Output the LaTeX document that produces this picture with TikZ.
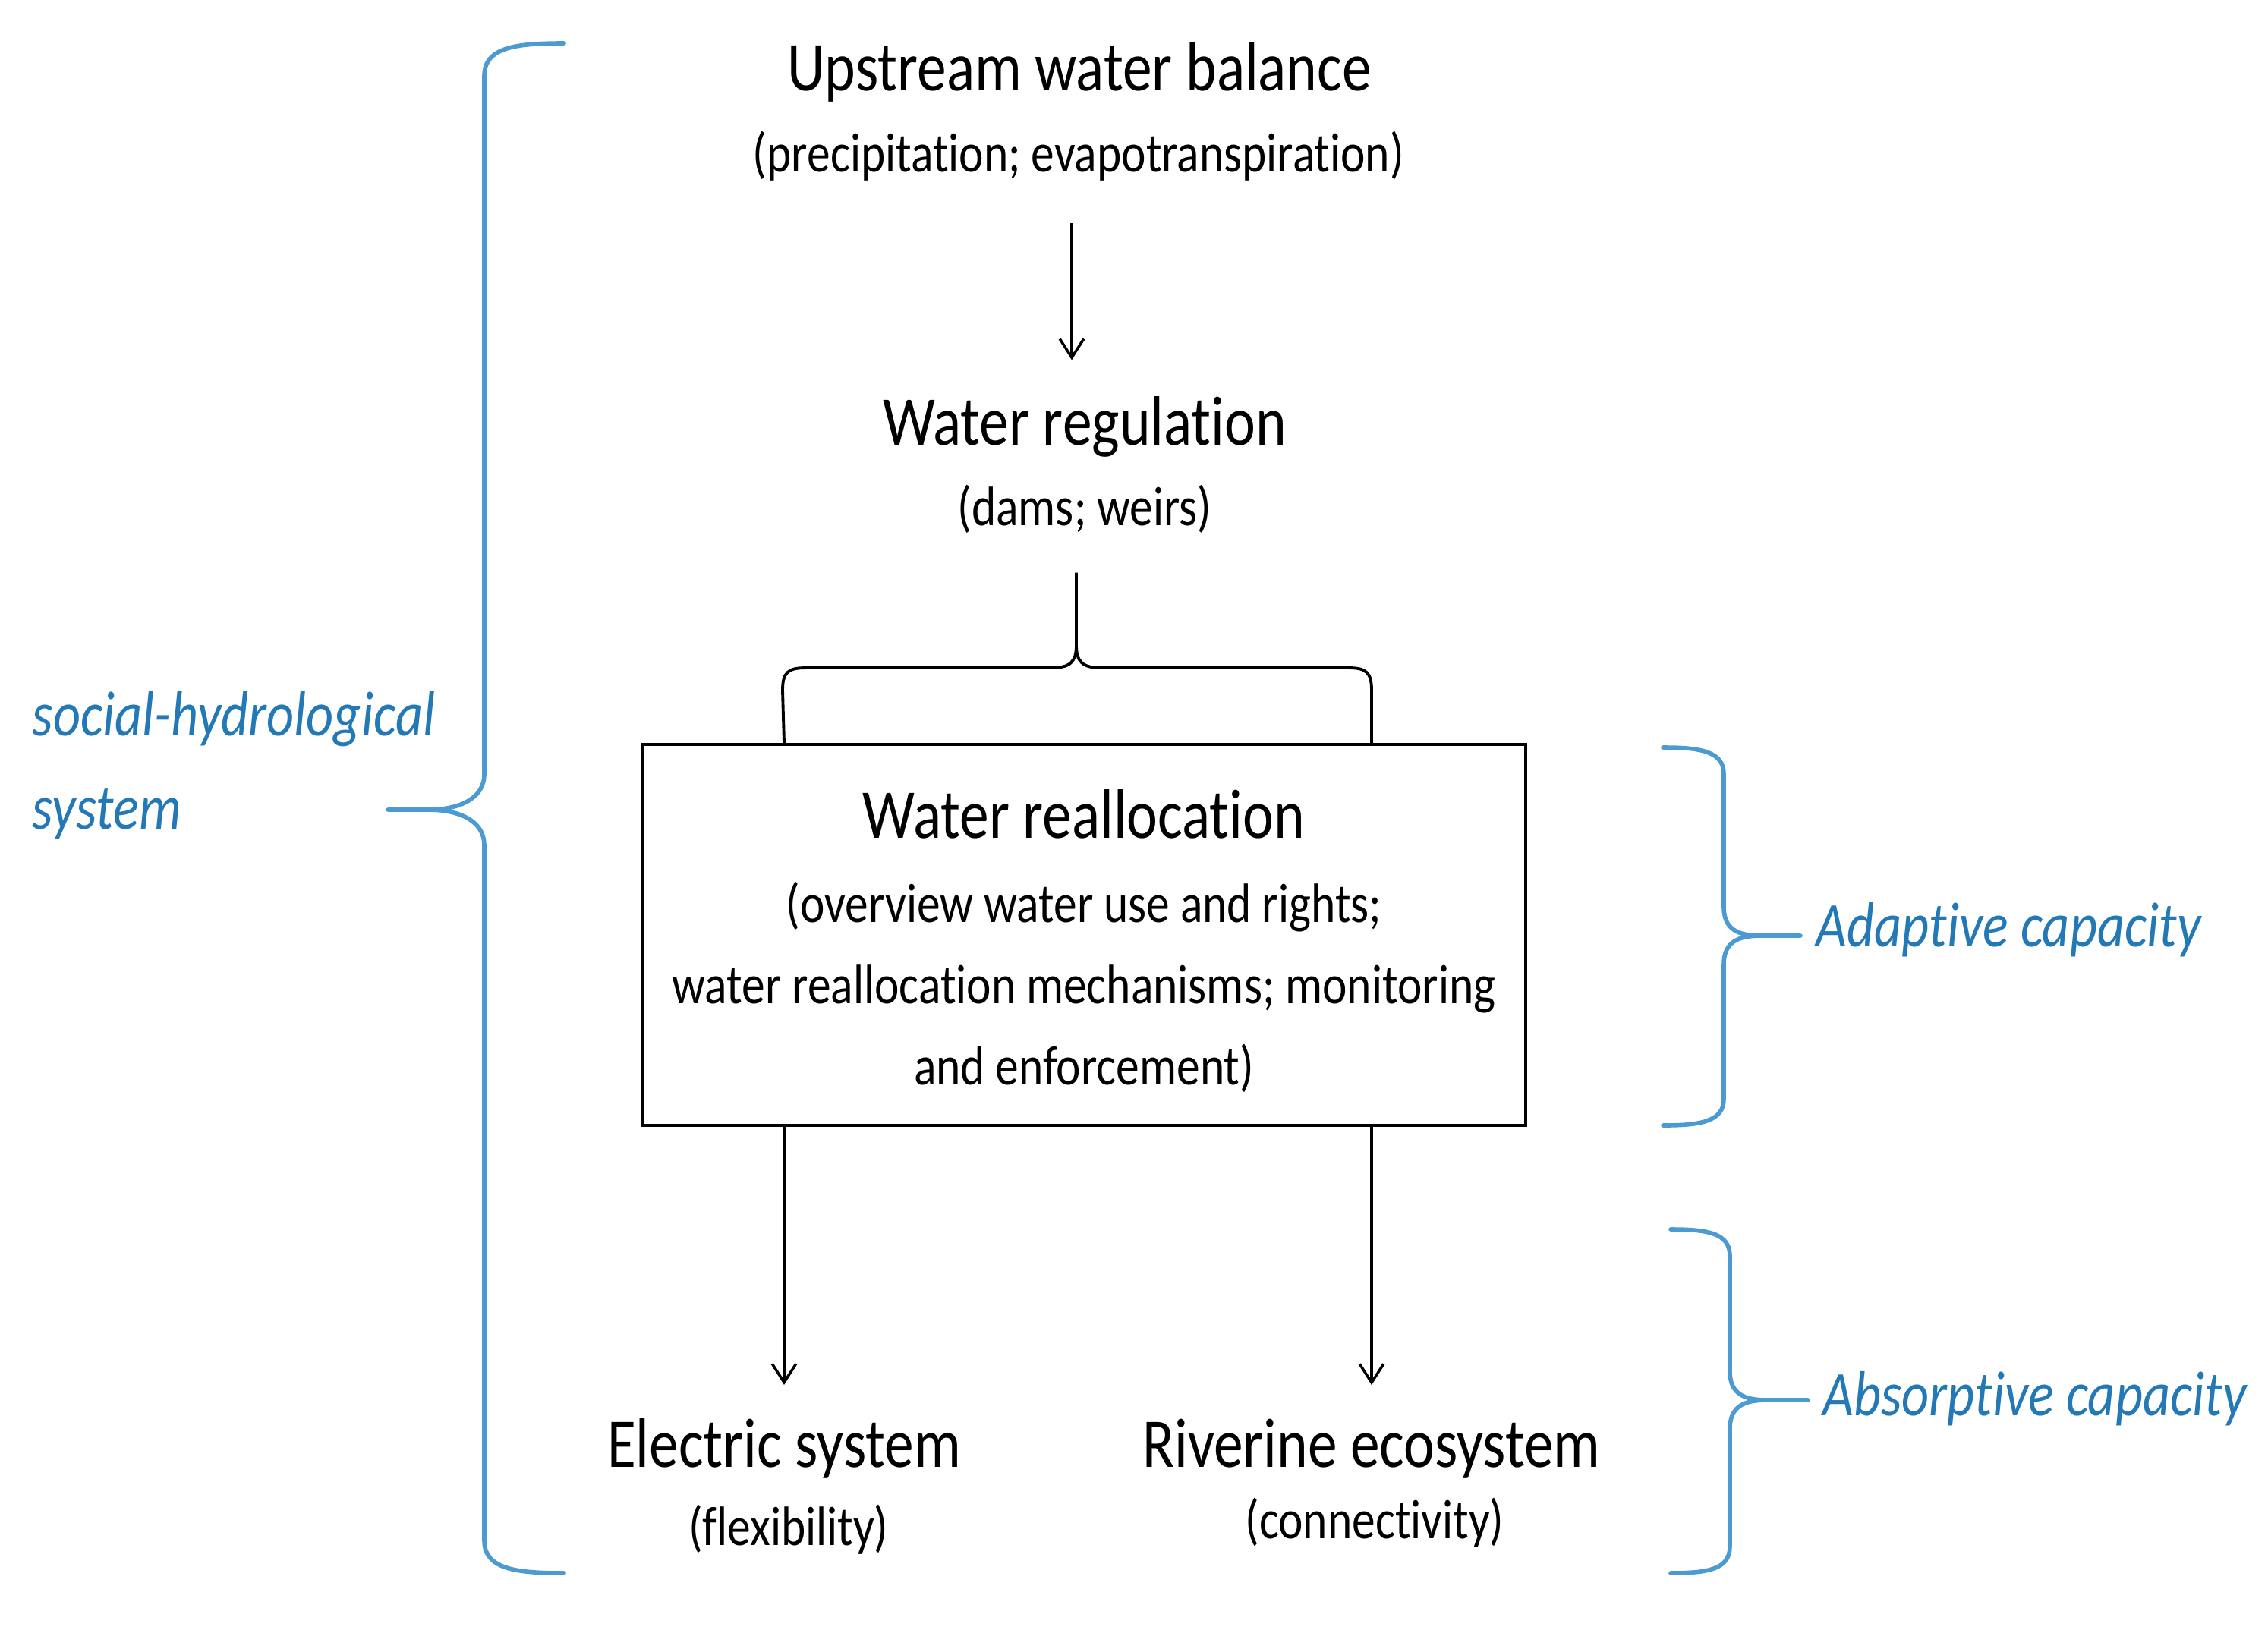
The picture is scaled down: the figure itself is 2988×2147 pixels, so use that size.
\documentclass[tikz,border=0pt]{standalone}
\usepackage{fontspec}
\setmainfont[FakeStretch=0.84,Ligatures={NoCommon}]{Carlito}
\usetikzlibrary{arrows.meta,calc}
\definecolor{bbrace}{RGB}{75,155,210}
\definecolor{btext}{RGB}{35,120,182}
\begin{document}
\begin{tikzpicture}[x=0.01cm,y=-0.01cm,
 title/.style={font=\fontsize{26.2}{30}\selectfont, inner sep=0pt},
 sub/.style={font=\fontsize{20.8}{24}\selectfont, inner sep=0pt},
 blab/.style={font=\fontsize{23.8}{35}\selectfont\itshape, text=btext, inner sep=0pt, anchor=west, align=left},
 arr/.style={-{Straight Barb[length=7pt,width=9pt]}, line width=1pt},
 bbr/.style={draw=bbrace, line width=1.6pt, line cap=round},
 blk/.style={line width=1.1pt},
]
\useasboundingbox (0,0) rectangle (2988,2147);
% top
\node[title] (up) at (1422,95) {Upstream water balance};
\node[sub] (upsub) at (1421,206) {(precipitation; evapotranspiration)};
\node[title] (reg) at (1429,562) {Water regulation};
\node[sub] (regsub) at (1429,671) {(dams; weirs)};
% box
\node[draw, blk, minimum width=11.64cm, minimum height=5.02cm, inner sep=0pt] (box) at (1428,1232) {};
\node[title] (rt) at (1428,1073) {Water reallocation};
\node[sub, align=center, font=\fontsize{20.8}{30.4}\selectfont] (rtxt) at (1428,1301) {(overview water use and rights;\\water reallocation mechanisms; monitoring\\and enforcement)};
% bottom
\node[title] (el) at (1033,1909) {Electric system};
\node[sub] (elsub) at (1039,2016) {(flexibility)};
\node[title] (riv) at (1807,1909) {Riverine ecosystem};
\node[sub] (rivsub) at (1811,2007) {(connectivity)};
% blue labels
\node[blab] (shs) at (42,1009) {social-hydrological\\system};
\node[blab] (adap) at (2392,1225) {Adaptive capacity};
\node[blab] (absp) at (2401,1843) {Absorptive capacity};
% arrows
\draw[arr] ($(upsub.south)+(-9,55)$) -- ($(reg.north)+(-17,-47)$);
\draw[arr] (box.south -| el) -- ($(el.north)+(0,-44)$);
\draw[arr] (box.south -| riv) -- ($(riv.north)+(0,-44)$);
% black brace
\coordinate (stemtop) at ($(regsub.south)+(-11,51)$);
\draw[blk] (box.north -| el) -- (1031,910) .. controls (1031,886) and (1038,880) .. (1062,880) -- (1385,880) .. controls (1410,880) and (1418,872) .. (1418,850) -- (stemtop);
\draw[blk] (box.north -| riv) -- (1807,910) .. controls (1807,886) and (1800,880) .. (1776,880) -- (1451,880) .. controls (1426,880) and (1418,872) .. (1418,850);
% blue braces
\coordinate (adapend) at (2372,1233);
\coordinate (abspend) at (2382,1845);
\draw[bbr] (743,57) .. controls (680,57) and (638,62) .. (638,100) -- (638,1020) .. controls (638,1055) and (600,1067) .. (565,1067) -- (511,1067);
\draw[bbr] (565,1067) .. controls (600,1067) and (638,1079) .. (638,1114) -- (638,2030) .. controls (638,2068) and (680,2073) .. (743,2073);
\draw[bbr] (2191,985) .. controls (2240,985) and (2271,990) .. (2271,1020) -- (2271,1195) .. controls (2271,1225) and (2290,1233) .. (2320,1233) -- (adapend);
\draw[bbr] (2320,1233) .. controls (2290,1233) and (2271,1241) .. (2271,1271) -- (2271,1448) .. controls (2271,1478) and (2240,1483) .. (2191,1483);
\draw[bbr] (2201,1620) .. controls (2250,1620) and (2279,1625) .. (2279,1655) -- (2279,1807) .. controls (2279,1837) and (2298,1845) .. (2328,1845) -- (abspend);
\draw[bbr] (2328,1845) .. controls (2298,1845) and (2279,1853) .. (2279,1883) -- (2279,2038) .. controls (2279,2068) and (2250,2073) .. (2201,2073);
\end{tikzpicture}
\end{document}
